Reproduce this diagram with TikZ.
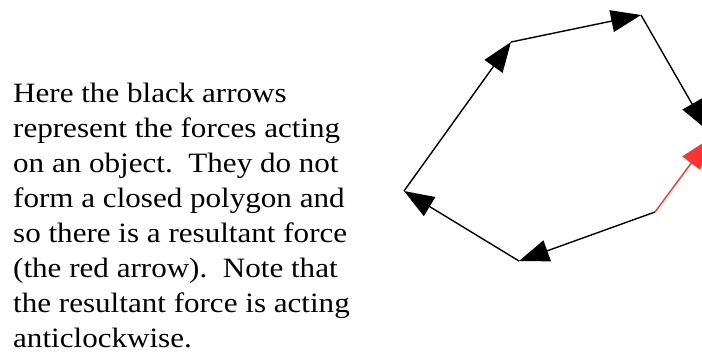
\documentclass[tikz,border=0pt]{standalone}
\usepackage{fontspec}
\setmainfont{Liberation Serif}
\usetikzlibrary{arrows.meta}
\definecolor{resred}{RGB}{255,51,51}
\newcommand{\widetext}[1]{\scalebox{1.11}[1]{#1}}
\begin{document}
\begin{tikzpicture}[x=1pt,y=-1pt,
  txt/.style={anchor=base west,inner sep=0pt,font=\fontsize{28}{34}\selectfont},
  force/.style={line width=1.4pt,-{Triangle[length=30pt,width=22pt]}},
  resultant/.style={force,draw=resred,fill=resred}]
\useasboundingbox (0,0) rectangle (702,354);
\clip (0,0) rectangle (702,354);
\node[txt] (l1) at (13,102.7) {\widetext{Here the black arrows}};
\node[txt] (l2) at (13,137.7) {\widetext{represent the forces acting}};
\node[txt] (l3) at (13,172.7) {\widetext{on an object.\ \ They do not}};
\node[txt] (l4) at (13,207.7) {\widetext{form a closed polygon and}};
\node[txt] (l5) at (13,242.7) {\widetext{so there is a resultant force}};
\node[txt] (l6) at (13,277.7) {\widetext{(the red arrow).\ \ Note that}};
\node[txt] (l7) at (13,312.7) {\widetext{the resultant force is acting}};
\node[txt] (l8) at (13,347.7) {\widetext{anticlockwise.}};
\coordinate (a) at (404,191);
\coordinate (b) at (511,42);
\coordinate (c) at (641,15);
\coordinate (d) at (707,130);
\coordinate (e) at (655,212);
\coordinate (f) at (519,261);
\coordinate (r) at (709,139);
\draw[force] (e) -- (f);
\draw[force] (f) -- (a);
\draw[force] (a) -- (b);
\draw[force] (b) -- (c);
\draw[force] (c) -- (d);
\draw[resultant] (e) -- (r);
\end{tikzpicture}
\end{document}
